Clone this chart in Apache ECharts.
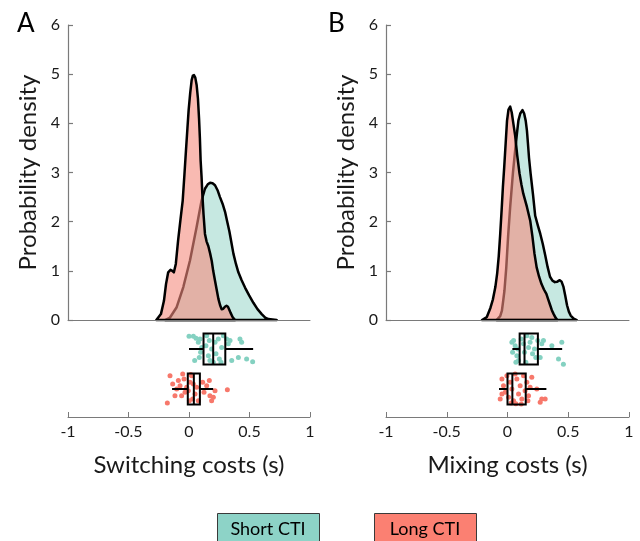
<!DOCTYPE html>
<html>
<head>
<meta charset="utf-8">
<script src="https://cdn.jsdelivr.net/npm/echarts@6/dist/echarts.min.js"></script>
<style>
html,body{margin:0;padding:0;background:#fff;}
#chart{width:640px;height:541px;}
</style>
</head>
<body>
<div id="chart"></div>
<script>
// ---------- Data ----------
const groupNames = ['Short CTI', 'Long CTI'];
const panelTitles = ['A', 'B'];
const xAxisTitles = ['Switching costs (s)', 'Mixing costs (s)'];
const yAxisTitle = 'Probability density';

// Kernel density curves [x (s), density]
const densityShortA = [[-0.197,0],[-0.157,0.05],[-0.102,0.26],[-0.047,0.67],[0.008,1.21],[0.063,1.89],[0.104,2.43],[0.132,2.67],[0.155,2.76],[0.174,2.79],[0.195,2.78],[0.215,2.74],[0.236,2.64],[0.256,2.5],[0.278,2.36],[0.298,2.2],[0.316,2.0],[0.334,1.8],[0.35,1.58],[0.367,1.35],[0.388,1.14],[0.408,0.97],[0.435,0.81],[0.463,0.66],[0.497,0.5],[0.532,0.35],[0.566,0.22],[0.601,0.12],[0.63,0.05],[0.656,0.02],[0.725,0]];
const densityLongA = [[-0.27,0],[-0.232,0.12],[-0.207,0.39],[-0.19,0.73],[-0.172,0.97],[-0.153,1.02],[-0.138,1.0],[-0.125,0.97],[-0.109,1.14],[-0.09,1.62],[-0.07,2.05],[-0.052,2.43],[-0.038,2.95],[-0.025,3.45],[-0.013,3.9],[-0.003,4.27],[0.01,4.62],[0.022,4.88],[0.032,4.97],[0.041,4.98],[0.052,4.93],[0.063,4.78],[0.074,4.5],[0.083,4.1],[0.09,3.7],[0.096,3.25],[0.104,2.9],[0.11,2.57],[0.12,2.15],[0.132,1.75],[0.145,1.6],[0.16,1.5],[0.175,1.35],[0.188,1.2],[0.2,1.0],[0.215,0.8],[0.23,0.6],[0.243,0.43],[0.257,0.3],[0.27,0.22],[0.283,0.23],[0.297,0.27],[0.31,0.29],[0.322,0.27],[0.333,0.21],[0.343,0.15],[0.36,0.06],[0.38,0]];
const densityShortB = [[-0.09,0],[-0.06,0.08],[-0.046,0.19],[-0.035,0.4],[-0.025,0.6],[-0.01,1.07],[0.005,1.7],[0.022,2.3],[0.045,3.0],[0.063,3.45],[0.078,3.8],[0.09,4.06],[0.105,4.2],[0.123,4.27],[0.137,4.2],[0.15,4.05],[0.16,3.85],[0.168,3.6],[0.177,3.3],[0.19,2.98],[0.21,2.55],[0.228,2.12],[0.25,1.92],[0.27,1.75],[0.29,1.55],[0.31,1.32],[0.33,1.08],[0.35,0.88],[0.37,0.8],[0.39,0.77],[0.41,0.78],[0.43,0.81],[0.445,0.78],[0.46,0.68],[0.475,0.5],[0.49,0.3],[0.505,0.17],[0.52,0.09],[0.545,0.03],[0.57,0]];
const densityLongB = [[-0.21,0],[-0.17,0.06],[-0.14,0.25],[-0.12,0.42],[-0.1,0.67],[-0.085,0.95],[-0.072,1.3],[-0.06,1.75],[-0.048,2.25],[-0.038,2.7],[-0.027,3.11],[-0.015,3.6],[-0.004,4.05],[0.008,4.28],[0.022,4.34],[0.035,4.22],[0.048,4.0],[0.063,3.75],[0.08,3.35],[0.099,2.98],[0.115,2.75],[0.13,2.57],[0.16,2.3],[0.187,2.02],[0.205,1.7],[0.222,1.35],[0.24,1.07],[0.26,0.88],[0.28,0.73],[0.3,0.62],[0.32,0.53],[0.335,0.42],[0.35,0.31],[0.365,0.2],[0.38,0.12],[0.395,0.05],[0.41,0]];

// Box plot summaries: [row position, min, Q1, median, Q3, max]
const boxShortA = [1.7, 0.0, 0.12, 0.20, 0.30, 0.53];
const boxLongA  = [0.7, -0.14, -0.01, 0.04, 0.09, 0.20];
const boxShortB = [1.7, 0.04, 0.10, 0.14, 0.25, 0.45];
const boxLongB  = [0.7, -0.07, 0.0, 0.04, 0.15, 0.32];

// Individual participants: [cost (s), row position with jitter]
const pointsShortA = [[0.00,2.02],[0.036,2.02],[0.058,1.97],[0.077,1.87],[0.091,1.95],[0.047,1.41],[0.085,1.49],[0.096,1.62],[0.146,2.03],[0.140,1.78],[0.160,1.53],[0.173,1.41],[0.187,1.70],[0.215,1.87],[0.223,1.58],[0.242,1.95],[0.251,1.45],[0.270,1.74],[0.284,2.03],[0.311,1.95],[0.325,1.83],[0.339,1.91],[0.353,1.41],[0.408,1.49],[0.421,1.95],[0.435,1.87],[0.476,1.45],[0.526,1.38],[0.105,1.74],[0.168,1.91],[0.201,1.37],[0.264,1.37]];
const pointsLongA = [[-0.179,0.35],[-0.157,1.03],[-0.135,0.825],[-0.102,0.70],[-0.088,0.91],[-0.074,0.783],[-0.052,1.075],[-0.041,0.95],[-0.033,0.617],[-0.061,0.533],[-0.006,0.658],[0.008,0.867],[0.022,1.03],[0.030,0.45],[0.050,0.575],[0.063,0.742],[0.077,0.408],[0.113,0.867],[0.124,0.617],[0.146,0.783],[0.168,0.91],[0.173,0.533],[0.187,0.408],[0.201,0.492],[0.215,0.658],[0.317,0.683],[-0.116,0.533],[0.003,0.408],[0.036,0.825],[-0.019,0.742],[0.014,1.06]];
const pointsShortB = [[0.036,1.87],[0.050,1.91],[0.063,1.78],[0.077,1.53],[0.085,1.7],[0.091,1.41],[0.113,1.95],[0.132,1.83],[0.140,1.62],[0.159,2.03],[0.173,1.74],[0.186,1.87],[0.200,1.99],[0.206,1.58],[0.222,1.7],[0.233,1.49],[0.269,1.49],[0.282,1.83],[0.296,1.91],[0.365,1.78],[0.420,1.45],[0.447,1.87],[0.460,1.32],[0.069,1.37],[0.151,1.37],[0.249,1.91],[0.042,1.62]];
const pointsLongB = [[-0.060,0.45],[-0.046,0.95],[-0.033,0.783],[-0.019,0.617],[-0.005,1.03],[0.009,0.492],[0.022,0.867],[0.036,0.70],[0.050,0.408],[0.063,1.075],[0.077,0.95],[0.091,0.575],[0.104,0.783],[0.118,0.45],[0.132,1.03],[0.145,0.658],[0.159,0.867],[0.173,0.533],[0.186,0.742],[0.200,0.992],[0.168,0.408],[0.269,0.367],[0.282,0.45],[0.31,0.45],[0.241,0.70],[0.030,0.35],[0.069,0.33],[0.113,0.325],[-0.046,0.575]];

// ---------- Styling ----------
const FONT = 'Lato, "Open Sans", sans-serif';
const AXIS_GRAY = '#7a7a7a';
const shortFill = '#c6e8e1';
const longFill = 'rgba(245,140,127,0.6)';
const shortPoint = '#84d1c1';
const longPoint = '#f7786b';
const legendShort = '#8dd3c7';
const legendLong = '#fb8072';

const panelLeft = [68, 386];
const panelWidth = [242, 243];

const grids = [];
const xAxes = [];
const yAxes = [];
panelLeft.forEach((left, p) => {
  grids.push({left: left, top: 25, width: panelWidth[p], height: 295});
  grids.push({left: left, top: 329, width: panelWidth[p], height: 88});
  xAxes.push({
    gridIndex: p * 2, type: 'value', min: -1, max: 1, interval: 0.5, z: 20,
    axisLine: {show: true, onZero: false, lineStyle: {color: AXIS_GRAY, width: 1}},
    axisTick: {show: false}, axisLabel: {show: false}, splitLine: {show: false}
  });
  xAxes.push({
    gridIndex: p * 2 + 1, type: 'value', min: -1, max: 1, interval: 0.5, z: 20,
    axisLine: {show: true, onZero: false, lineStyle: {color: AXIS_GRAY, width: 1}},
    axisTick: {show: true, inside: true, length: 5, lineStyle: {color: AXIS_GRAY}},
    axisLabel: {show: true, fontSize: 16, color: '#1a1a1a', margin: 7, fontFamily: FONT},
    splitLine: {show: false},
    name: xAxisTitles[p], nameLocation: 'middle', nameGap: 36,
    nameTextStyle: {fontSize: 24, color: '#1a1a1a', fontFamily: FONT}
  });
  yAxes.push({
    gridIndex: p * 2, type: 'value', min: 0, max: 6, interval: 1, zlevel: 1, z: 20,
    axisLine: {show: true, onZero: false, lineStyle: {color: AXIS_GRAY, width: 1.2}},
    axisTick: {show: true, inside: true, length: 5, lineStyle: {color: AXIS_GRAY, width: 1.2}},
    axisLabel: {fontSize: 16, color: '#1a1a1a', margin: 8, fontFamily: FONT},
    splitLine: {show: false},
    name: yAxisTitle, nameLocation: 'middle', nameGap: 28,
    nameTextStyle: {fontSize: 24, color: '#1a1a1a', fontFamily: FONT}
  });
  yAxes.push({
    gridIndex: p * 2 + 1, type: 'value', min: 0, max: 2.2, show: false
  });
});

function densitySeries(name, pts, axisIdx, fill, z) {
  return {
    type: 'custom', name: name, xAxisIndex: axisIdx, yAxisIndex: axisIdx,
    data: pts, z: z, silent: true, clip: false,
    encode: {x: 0, y: 1},
    renderItem: function (params, api) {
      if (params.dataIndex !== 0) return null;
      const points = pts.map(function (d) { return api.coord(d); });
      return {
        type: 'polygon',
        shape: {points: points},
        style: {fill: fill, stroke: '#000', lineWidth: 2.5, lineJoin: 'round'}
      };
    }
  };
}

function boxSeries(name, box, axisIdx) {
  return {
    type: 'custom', name: name, xAxisIndex: axisIdx, yAxisIndex: axisIdx,
    data: [box], z: 5, silent: true, clip: false,
    encode: {x: [1, 2, 3, 4, 5], y: 0},
    renderItem: function (params, api) {
      const y = api.value(0);
      const pMin = api.coord([api.value(1), y]);
      const pQ1 = api.coord([api.value(2), y]);
      const pMed = api.coord([api.value(3), y]);
      const pQ3 = api.coord([api.value(4), y]);
      const pMax = api.coord([api.value(5), y]);
      const half = api.size([0, 0.39])[1];
      const st = {stroke: '#000', lineWidth: 2, fill: null};
      return {
        type: 'group',
        children: [
          {type: 'line', shape: {x1: pMin[0], y1: pMin[1], x2: pQ1[0], y2: pQ1[1]}, style: st},
          {type: 'line', shape: {x1: pQ3[0], y1: pQ3[1], x2: pMax[0], y2: pMax[1]}, style: st},
          {type: 'rect', shape: {x: pQ1[0], y: pQ1[1] - half, width: pQ3[0] - pQ1[0], height: half * 2}, style: {stroke: '#000', lineWidth: 2, fill: 'rgba(0,0,0,0)'}},
          {type: 'line', shape: {x1: pMed[0], y1: pMed[1] - half, x2: pMed[0], y2: pMed[1] + half}, style: st}
        ]
      };
    }
  };
}

function pointSeries(name, pts, axisIdx, color) {
  return {
    type: 'scatter', name: name, xAxisIndex: axisIdx, yAxisIndex: axisIdx,
    data: pts, symbolSize: 5, z: 3, silent: true,
    itemStyle: {color: color, opacity: 1}
  };
}

const series = [
  densitySeries(groupNames[0], densityShortA, 0, shortFill, 2),
  densitySeries(groupNames[1], densityLongA, 0, longFill, 3),
  pointSeries(groupNames[0], pointsShortA, 1, shortPoint),
  pointSeries(groupNames[1], pointsLongA, 1, longPoint),
  boxSeries(groupNames[0], boxShortA, 1),
  boxSeries(groupNames[1], boxLongA, 1),
  densitySeries(groupNames[0], densityShortB, 2, shortFill, 2),
  densitySeries(groupNames[1], densityLongB, 2, longFill, 3),
  pointSeries(groupNames[0], pointsShortB, 3, shortPoint),
  pointSeries(groupNames[1], pointsLongB, 3, longPoint),
  boxSeries(groupNames[0], boxShortB, 3),
  boxSeries(groupNames[1], boxLongB, 3)
];

const chart = echarts.init(document.getElementById('chart'), null, {renderer: 'canvas'});
chart.setOption({
  animation: false,
  backgroundColor: '#fff',
  textStyle: {fontFamily: FONT},
  grid: grids,
  xAxis: xAxes,
  yAxis: yAxes,
  series: series,
  graphic: [
    {type: 'text', left: 17, top: 11, style: {text: panelTitles[0], fontSize: 26, fill: '#000', fontFamily: FONT}},
    {type: 'text', left: 328, top: 11, style: {text: panelTitles[1], fontSize: 26, fill: '#000', fontFamily: FONT}},
    {type: 'rect', shape: {x: 217.5, y: 513.5, width: 102, height: 40}, style: {fill: legendShort, stroke: '#3a3a3a', lineWidth: 1}},
    {type: 'text', x: 268, y: 529, style: {text: groupNames[0], fontSize: 18, fill: '#000', align: 'center', verticalAlign: 'middle', fontFamily: FONT}},
    {type: 'rect', shape: {x: 374.5, y: 513.5, width: 102, height: 40}, style: {fill: legendLong, stroke: '#3a3a3a', lineWidth: 1}},
    {type: 'text', x: 425, y: 529, style: {text: groupNames[1], fontSize: 18, fill: '#000', align: 'center', verticalAlign: 'middle', fontFamily: FONT}}
  ]
});
</script>
</body>
</html>
